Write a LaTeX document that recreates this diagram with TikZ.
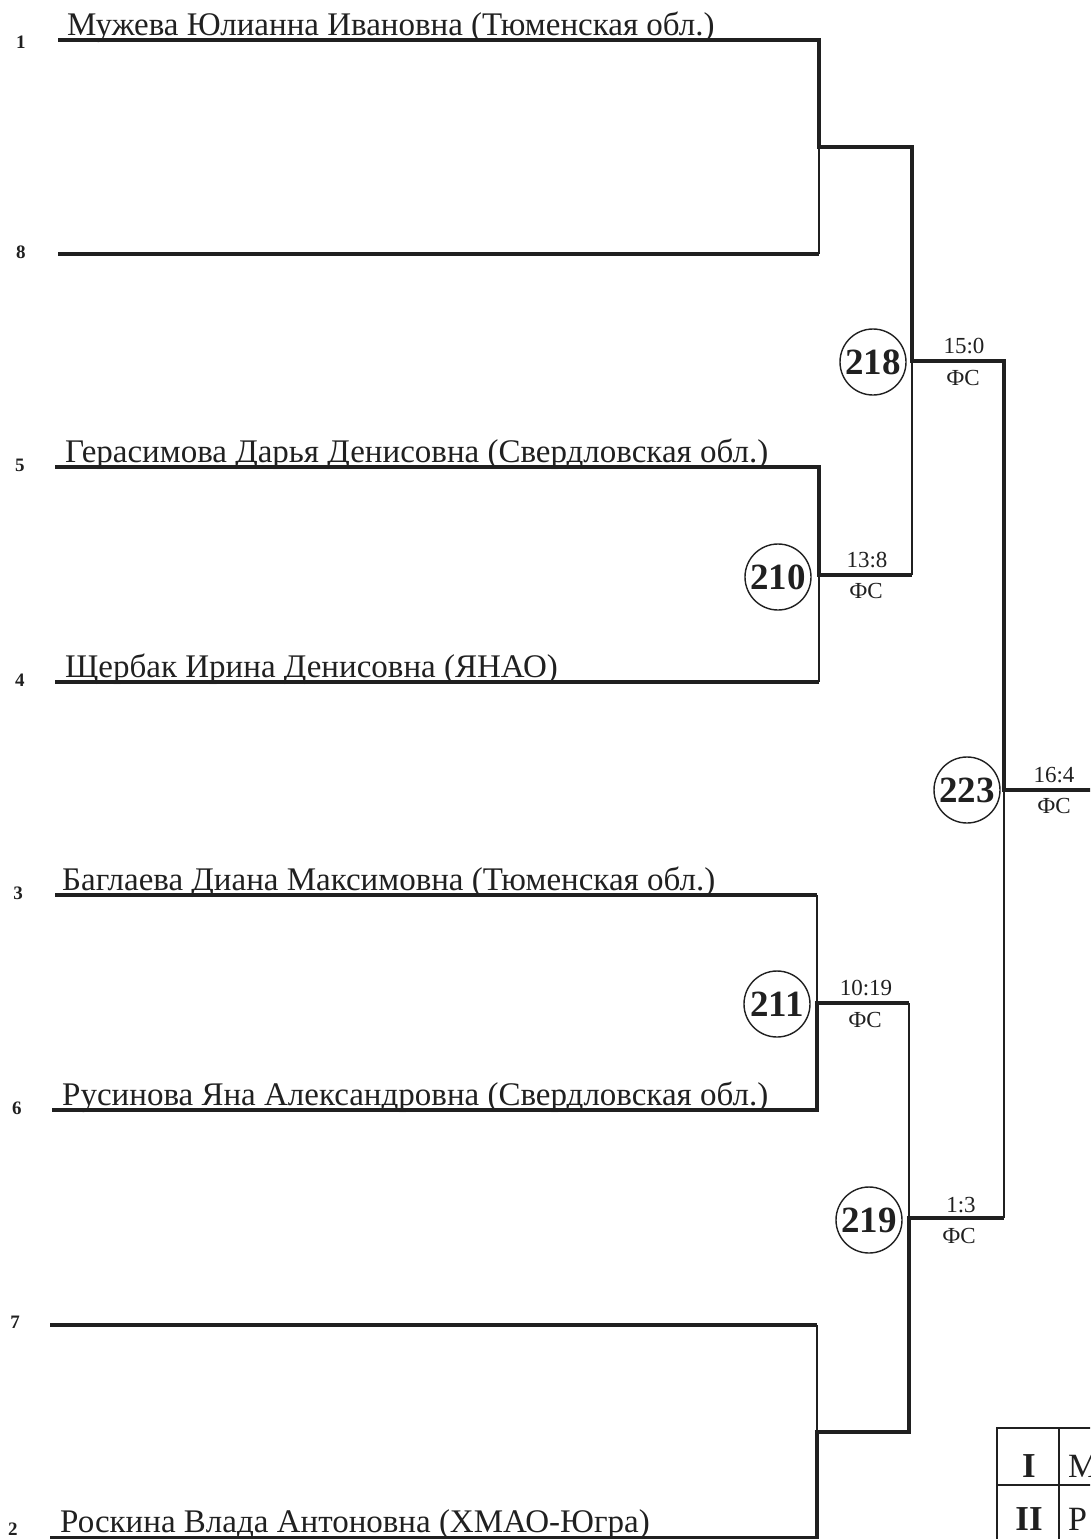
\documentclass[tikz,border=0pt]{standalone}
\usepackage{fontspec}
\setmainfont{Liberation Serif}
\usetikzlibrary{calc,positioning}
\definecolor{ink}{RGB}{32,32,32}
\tikzset{
    winline/.style={draw=ink, line width=4pt, line join=miter},
    loseline/.style={draw=ink, line width=1.8pt},
    gridline/.style={draw=ink, line width=2.2pt},
    seed/.style={font=\bfseries\fontsize{19}{19}\selectfont, text=ink, inner sep=0pt},
    player/.style={
        anchor=base west,
        inner sep=0pt,
        font=\fontsize{33}{36}\selectfont,
        text=ink
    },
    matchno/.style={
        circle,
        draw=ink,
        line width=1.4pt,
        minimum size=66pt,
        inner sep=0pt,
        font=\bfseries\fontsize{37}{37}\selectfont,
        text=ink
    },
    score/.style={anchor=base, inner sep=0pt, font=\fontsize{23}{23}\selectfont, text=ink},
    placeno/.style={anchor=base, inner sep=0pt, font=\bfseries\fontsize{35}{35}\selectfont, text=ink},
    placename/.style={anchor=base west, inner sep=0pt, font=\fontsize{34}{36}\selectfont, text=ink}
}

\begin{document}
\begin{tikzpicture}[x=1pt, y=-1pt]

\useasboundingbox (0,0) rectangle (1090,1539);
\clip (0,0) rectangle (1090,1539);

% Line ends of the players
\coordinate (p1) at (58,40);
\coordinate (p8) at (58,254);
\coordinate (p5) at (55,467);
\coordinate (p4) at (55,682);
\coordinate (p3) at (55,895);
\coordinate (p6) at (52,1110);
\coordinate (p7) at (50,1325);
\coordinate (p2) at (50,1538);

% Joints of the bracket
\coordinate (a18) at (819,147);
\coordinate (a54) at (819,575);
\coordinate (a36) at (817,1003);
\coordinate (a72) at (817,1432);
\coordinate (b1) at (912,361);
\coordinate (b2) at (909,1218);
\coordinate (c) at (1004,790);
\coordinate (e) at (1095,790);

% === Seeds and names ===
\node[seed] (s1) at (21,42) {1};
\node[seed] (s8) at (21,252) {8};
\node[seed] (s5) at (20,465) {5};
\node[seed] (s4) at (20,680) {4};
\node[seed] (s3) at (18,893) {3};
\node[seed] (s6) at (17,1108) {6};
\node[seed] (s7) at (15,1322) {7};
\node[seed] (s2) at (13,1529) {2};

\node[player] (n1) at (67,35) {Мужева Юлианна Ивановна (Тюменская обл.)};
\node[player] (n5) at (65,462) {Герасимова Дарья Денисовна (Свердловская обл.)};
\node[player] (n4) at (65,677) {Щербак Ирина Денисовна (ЯНАО)};
\node[player] (n3) at (62,890) {Баглаева Диана Максимовна (Тюменская обл.)};
\node[player] (n6) at (62,1105) {Русинова Яна Александровна (Свердловская обл.)};
\node[player] (n2) at (60,1532) {Роскина Влада Антоновна (ХМАО-Югра)};

% === Bracket lines ===
\draw[loseline] (p8 -| a18) -- (a18);
\draw[loseline] (p4 -| a54) -- (a54);
\draw[loseline] (a54 -| b1) -- (b1);
\draw[loseline] (p3 -| a36) -- (a36);
\draw[loseline] (p7 -| a72) -- (a72);
\draw[loseline] (a36 -| b2) -- (b2);
\draw[loseline] (b2 -| c) -- (c);

\draw[winline] (p8) -- (p8 -| a18);
\draw[winline] (p4) -- (p4 -| a54);
\draw[winline] (p3) -- (p3 -| a36);
\draw[winline] (p7) -- (p7 -| a72);
\draw[winline] (p5) -| (a54) -- (a54 -| b1);
\draw[winline] (p6) -| (a36) -- (a36 -| b2);
\draw[winline] (p2) -| (a72) -| (b2) -- (b2 -| c);
\draw[winline] (p1) -| (a18) -| (b1) -| (c) -- (e);

% === Matches ===
\node[matchno] (m210) at (778,577) {210};
\node[matchno] (m211) at (777,1004) {211};
\node[matchno] (m218) at (873,362) {218};
\node[matchno] (m219) at (869,1220) {219};
\node[matchno] (m223) at (967,790) {223};

\node[score] (r210) at (867,567) {13:8};
\node[score] (f210) at (866,598) {ФС};
\node[score] (r211) at (866,995) {10:19};
\node[score] (f211) at (865,1027) {ФС};
\node[score] (r218) at (964,353) {15:0};
\node[score] (f218) at (963,385) {ФС};
\node[score] (r219) at (961,1212) {1:3};
\node[score] (f219) at (959,1243) {ФС};
\node[score] (r223) at (1054,782) {16:4};
\node[score] (f223) at (1054,813) {ФС};

% === Places ===
\draw[gridline] (1100,1428) -| (997,1545);
\draw[gridline] (1059,1428) -- (1059,1545);
\draw[gridline] (997,1485) -- (1100,1485);

\node[placeno] (t1) at (1029,1477) {I};
\node[placename] (t1n) at (1068,1477) {М};
\node[placeno] (t2) at (1029,1530) {II};
\node[placename] (t2n) at (1068,1530) {Р};

\end{tikzpicture}
\end{document}
